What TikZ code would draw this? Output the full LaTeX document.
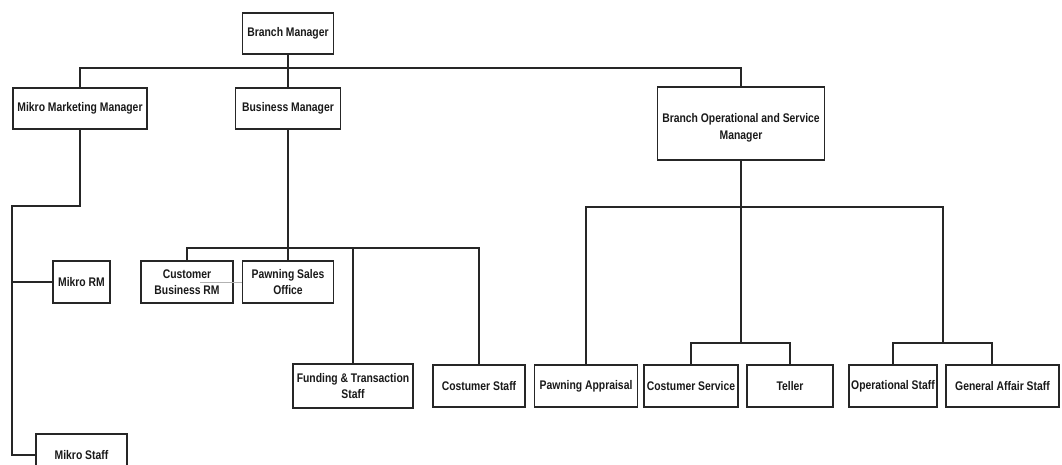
\documentclass[tikz,border=0pt]{standalone}
\usepackage{fontspec}
\setmainfont{Liberation Sans}[FakeStretch=0.83]
\begin{document}
\begin{tikzpicture}[x=1pt,y=-1pt,
  boxtext/.style={align=center,inner sep=0pt,font=\bfseries\fontsize{12.5}{16}\selectfont,text=black!90},
  box/.style={boxtext,draw=black!85,line width=1.2pt,fill=white,minimum height=42pt},
  conn/.style={draw=black!85,line width=1.2pt},
  faint/.style={draw=black!30,line width=0.6pt}]
\useasboundingbox (0,0) rectangle (1062,465);
\begin{scope}
\clip (0,0) rectangle (1062,465);
% nodes
\node[box,minimum width=91pt,minimum height=41pt] (bm) at (288,33.5) {Branch Manager};
\node[box,minimum width=134pt,minimum height=41pt] (mmm) at (80,108.5) {Mikro Marketing Manager};
\node[box,minimum width=105pt,minimum height=41pt] (bus) at (288,108.5) {Business Manager};
\node[box,minimum width=167pt,minimum height=73pt,
  label={[boxtext,font=\bfseries\fontsize{12.5}{17}\selectfont,yshift=-4pt]center:Branch Operational and Service\\Manager}] (bosm) at (741,123.5) {};
\node[box,minimum width=57pt] (mrm) at (81.5,282) {Mikro RM};
\node[box,minimum width=92pt] (cbrm) at (187,282) {Customer\\Business RM};
\node[box,minimum width=91pt] (pso) at (288,282) {Pawning Sales\\Office};
\node[box,minimum width=120pt,minimum height=44pt] (fts) at (353,386) {Funding \& Transaction\\Staff};
\node[box,minimum width=92pt] (cs) at (479,386) {Costumer Staff};
\node[box,minimum width=103pt] (pa) at (586,386) {Pawning Appraisal};
\node[box,minimum width=94pt] (csv) at (691,386) {Costumer Service};
\node[box,minimum width=86pt] (tel) at (790,386) {Teller};
\node[box,minimum width=88pt] (ops) at (893,386) {Operational Staff};
\node[box,minimum width=113pt] (gas) at (1002.5,386) {General Affair Staff};
\node[box,minimum width=91pt] (ms) at (81.5,455) {Mikro Staff};
% junction coordinates
\coordinate (j1) at (288,68);
\coordinate (jm) at (80,206);
\coordinate (jl) at (12,206);
\coordinate (jb) at (288,248);
\coordinate (jo) at (741,207);
\coordinate (jc) at (741,343);
\coordinate (jr) at (943,343);
\coordinate (jg) at (992,343);
\coordinate (gs) at (200,282);
% connectors
\draw[conn] (bm.south) -- (j1);
\draw[conn] (mmm.north) -- (mmm.north |- j1) -- (bosm.north |- j1) -- (bosm.north);
\draw[conn] (bus.north) -- (bus.north |- j1);
\draw[conn] (mmm.south) -- (mmm.south |- jm) -- (jl) -- (jl |- ms.west) -- (ms.west);
\draw[conn] (jl |- mrm.west) -- (mrm.west);
\draw[conn] (bus.south) -- (jb);
\draw[conn] (cbrm.north) -- (cbrm.north |- jb) -- (cs.north |- jb) -- (cs.north);
\draw[conn] (pso.north) -- (pso.north |- jb);
\draw[conn] (fts.north) -- (fts.north |- jb);
\draw[faint] (gs) -- (pso.west);
\draw[conn] (bosm.south) -- (jo);
\draw[conn] (pa.north) -- (pa.north |- jo) -- (jr |- jo) -- (jr);
\draw[conn] (jo) -- (jc);
\draw[conn] (csv.north) -- (csv.north |- jc) -- (tel.north |- jc) -- (tel.north);
\draw[conn] (ops.north) -- (ops.north |- jr) -- (jg) -- (jg |- gas.north);
\end{scope}
\end{tikzpicture}
\end{document}
